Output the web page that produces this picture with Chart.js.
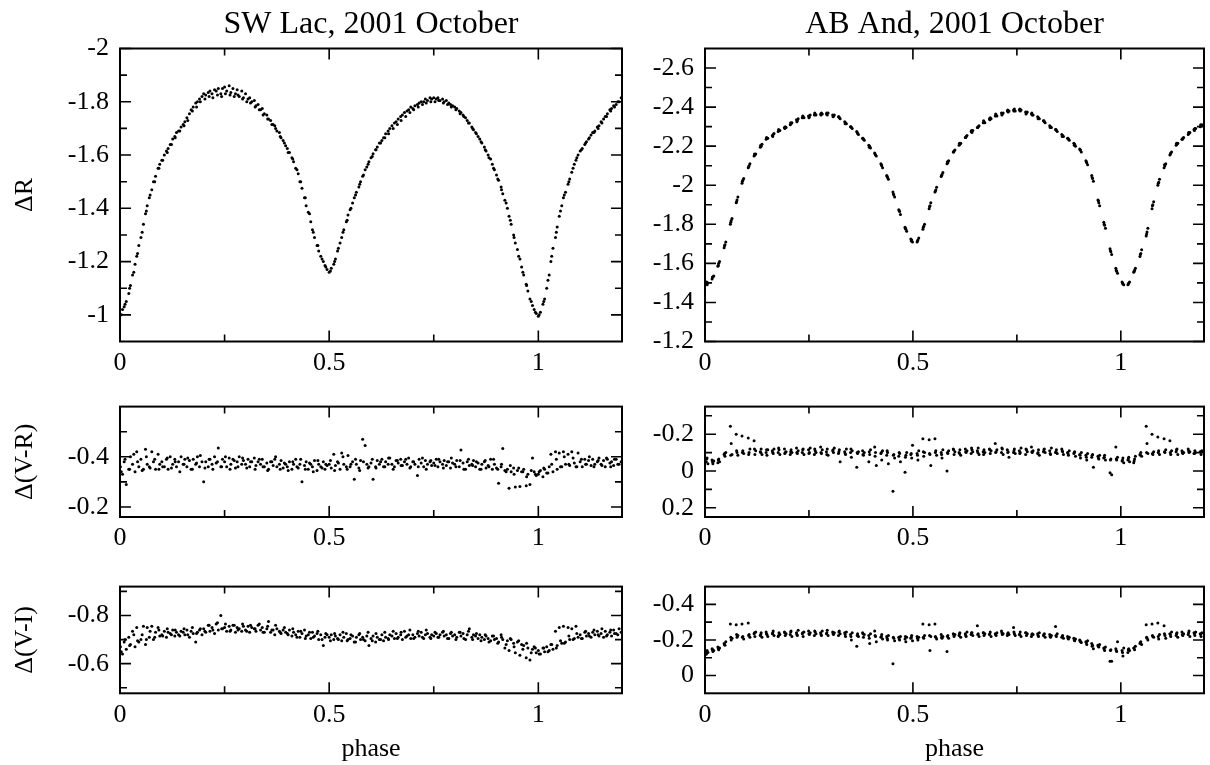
<!DOCTYPE html>
<html><head><meta charset="utf-8">
<script src="https://cdn.jsdelivr.net/npm/chart.js@4.4.0/dist/chart.umd.min.js"></script>
<style>
html,body{margin:0;padding:0;background:#fff;}
#wrap{position:relative;width:1210px;height:765px;overflow:hidden;background:#fff;}
canvas{position:absolute;}
</style></head><body><div id="wrap">
<canvas id="c1"></canvas><canvas id="c2"></canvas><canvas id="c3"></canvas>
<canvas id="c4"></canvas><canvas id="c5"></canvas><canvas id="c6"></canvas>
</div>
<script>
// ---------- tick labels ----------
const xMajor = [0, 0.5, 1];
const xMinor = [0.25, 0.75];
const swRMajor = [-2, -1.8, -1.6, -1.4, -1.2, -1];
const swRMinor = [-1.9, -1.7, -1.5, -1.3, -1.1];
const swVRMajor = [-0.4, -0.2];
const swVRMinor = [-0.5, -0.3];
const swVIMajor = [-0.8, -0.6];
const swVIMinor = [-0.9, -0.7, -0.5];
const abRMajor = [-2.6, -2.4, -2.2, -2, -1.8, -1.6, -1.4, -1.2];
const abRMinor = [-2.5, -2.3, -2.1, -1.9, -1.7, -1.5, -1.3];
const abVRMajor = [-0.2, 0, 0.2];
const abVRMinor = [-0.3, -0.1, 0.1];
const abVIMajor = [-0.4, -0.2, 0];
const abVIMinor = [-0.3, -0.1];

// ---------- SW Lac, night 1 ----------
const swPhase = [
0.001,0.006,0.010,0.015,0.021,0.025,0.030,0.036,0.040,0.045,
0.050,0.056,0.061,0.065,0.070,0.076,0.080,0.085,0.091,0.095,
0.100,0.106,0.111,0.115,0.120,0.126,0.131,0.135,0.140,0.146,
0.151,0.155,0.160,0.166,0.170,0.175,0.181,0.185,0.190,0.196,
0.200,0.205,0.211,0.215,0.220,0.226,0.230,0.235,0.241,0.245,
0.250,0.255,0.261,0.265,0.270,0.276,0.280,0.285,0.291,0.295,
0.300,0.306,0.310,0.315,0.321,0.325,0.330,0.336,0.340,0.345,
0.351,0.355,0.360,0.366,0.370,0.375,0.381,0.385,0.390,0.396,
0.400,0.405,0.411,0.415,0.420,0.426,0.430,0.435,0.441,0.445,
0.450,0.456,0.460,0.465,0.471,0.475,0.480,0.486,0.490,0.495,
0.500,0.505,0.511,0.515,0.520,0.526,0.530,0.535,0.541,0.545,
0.550,0.556,0.560,0.565,0.571,0.575,0.580,0.586,0.590,0.595,
0.600,0.605,0.611,0.615,0.620,0.626,0.630,0.635,0.641,0.645,
0.650,0.656,0.660,0.665,0.671,0.675,0.680,0.686,0.690,0.695,
0.700,0.705,0.711,0.715,0.720,0.726,0.730,0.735,0.741,0.745,
0.750,0.756,0.760,0.765,0.771,0.775,0.780,0.786,0.790,0.795,
0.800,0.805,0.811,0.815,0.820,0.826,0.830,0.835,0.841,0.845,
0.850,0.856,0.860,0.865,0.871,0.875,0.880,0.886,0.890,0.895,
0.900,0.905,0.911,0.915,0.920,0.926,0.930,0.935,0.941,0.945,
0.950,0.956,0.960,0.965,0.971,0.975,0.980,0.986,0.990,0.995,
1.000,1.005,1.011,1.015,1.020,1.026,1.030,1.035,1.041,1.045,
1.050,1.056,1.060,1.065,1.071,1.075,1.080,1.086,1.090,1.095,
1.100,1.105,1.111,1.115,1.120,1.126,1.130,1.135,1.141,1.145,
1.150,1.156,1.160,1.165,1.171,1.175,1.180,1.186,1.190,1.198];

const swR = [
-1.00,-1.02,-1.03,-1.05,-1.08,-1.11,-1.15,-1.19,-1.22,-1.26,
-1.29,-1.34,-1.38,-1.41,-1.44,-1.47,-1.50,-1.52,-1.55,-1.565,
-1.58,-1.60,-1.615,-1.625,-1.64,-1.66,-1.67,-1.685,-1.69,-1.705,
-1.715,-1.725,-1.74,-1.755,-1.77,-1.78,-1.795,-1.80,-1.81,-1.82,
-1.83,-1.825,-1.835,-1.84,-1.83,-1.845,-1.84,-1.85,-1.83,-1.85,
-1.855,-1.84,-1.86,-1.835,-1.85,-1.83,-1.845,-1.82,-1.84,-1.815,
-1.83,-1.81,-1.815,-1.80,-1.805,-1.785,-1.79,-1.77,-1.775,-1.755,
-1.75,-1.735,-1.73,-1.715,-1.71,-1.69,-1.685,-1.665,-1.655,-1.635,
-1.625,-1.61,-1.59,-1.575,-1.55,-1.53,-1.50,-1.475,-1.44,-1.41,
-1.385,-1.35,-1.32,-1.29,-1.26,-1.24,-1.22,-1.20,-1.185,-1.17,
-1.16,-1.175,-1.19,-1.21,-1.24,-1.27,-1.29,-1.32,-1.35,-1.375,
-1.395,-1.42,-1.44,-1.46,-1.48,-1.50,-1.52,-1.545,-1.555,-1.575,
-1.59,-1.605,-1.62,-1.63,-1.645,-1.655,-1.665,-1.68,-1.69,-1.70,
-1.71,-1.72,-1.725,-1.735,-1.745,-1.75,-1.76,-1.765,-1.77,-1.78,
-1.775,-1.785,-1.79,-1.795,-1.80,-1.80,-1.81,-1.805,-1.815,-1.81,
-1.815,-1.81,-1.815,-1.805,-1.81,-1.80,-1.805,-1.795,-1.79,-1.785,
-1.78,-1.775,-1.765,-1.76,-1.75,-1.74,-1.73,-1.72,-1.705,-1.695,
-1.685,-1.67,-1.66,-1.645,-1.63,-1.615,-1.60,-1.585,-1.565,-1.545,
-1.525,-1.505,-1.48,-1.455,-1.43,-1.40,-1.37,-1.34,-1.30,-1.27,
-1.245,-1.21,-1.18,-1.15,-1.115,-1.09,-1.06,-1.035,-1.02,-1.005,
-0.995,-1.01,-1.04,-1.06,-1.10,-1.15,-1.20,-1.25,-1.29,-1.33,
-1.37,-1.41,-1.44,-1.46,-1.49,-1.51,-1.535,-1.565,-1.58,-1.60,
-1.615,-1.625,-1.64,-1.65,-1.66,-1.675,-1.685,-1.69,-1.705,-1.71,
-1.725,-1.735,-1.745,-1.755,-1.77,-1.775,-1.785,-1.79,-1.80,-1.815];

const swVR = [
-0.36,-0.33,-0.38,-0.29,-0.35,-0.40,-0.37,-0.34,-0.42,-0.36,
-0.39,-0.35,-0.43,-0.37,-0.36,-0.42,-0.38,-0.35,-0.41,-0.37,
-0.38,-0.36,-0.39,-0.35,-0.40,-0.37,-0.39,-0.36,-0.38,-0.40,
-0.37,-0.39,-0.36,-0.385,-0.35,-0.39,-0.37,-0.40,-0.36,-0.38,
-0.30,-0.38,-0.36,-0.39,-0.37,-0.40,-0.375,-0.435,-0.36,-0.39,
-0.38,-0.36,-0.395,-0.37,-0.39,-0.355,-0.38,-0.40,-0.37,-0.385,
-0.37,-0.39,-0.36,-0.38,-0.395,-0.365,-0.38,-0.37,-0.39,-0.36,
-0.375,-0.35,-0.38,-0.365,-0.39,-0.36,-0.37,-0.385,-0.355,-0.37,
-0.36,-0.38,-0.35,-0.37,-0.39,-0.355,-0.37,-0.30,-0.365,-0.38,
-0.35,-0.37,-0.36,-0.385,-0.345,-0.37,-0.36,-0.38,-0.35,-0.365,
-0.37,-0.355,-0.41,-0.365,-0.38,-0.35,-0.415,-0.37,-0.36,-0.405,
-0.36,-0.38,-0.31,-0.37,-0.355,-0.385,-0.47,-0.445,-0.37,-0.36,
-0.375,-0.31,-0.36,-0.385,-0.37,-0.39,-0.36,-0.38,-0.37,-0.395,
-0.37,-0.36,-0.385,-0.375,-0.39,-0.365,-0.38,-0.37,-0.395,-0.36,
-0.38,-0.37,-0.325,-0.39,-0.375,-0.36,-0.385,-0.37,-0.38,-0.365,
-0.375,-0.39,-0.36,-0.38,-0.37,-0.385,-0.365,-0.38,-0.355,-0.375,
-0.37,-0.385,-0.36,-0.427,-0.375,-0.35,-0.38,-0.365,-0.37,-0.385,
-0.36,-0.375,-0.35,-0.37,-0.38,-0.355,-0.365,-0.39,-0.35,-0.37,
-0.355,-0.295,-0.36,-0.433,-0.345,-0.35,-0.275,-0.34,-0.355,-0.28,
-0.345,-0.282,-0.34,-0.35,-0.285,-0.33,-0.29,-0.395,-0.34,-0.325,
-0.33,-0.345,-0.32,-0.35,-0.335,-0.36,-0.41,-0.34,-0.42,-0.35,
-0.415,-0.36,-0.42,-0.37,-0.41,-0.365,-0.42,-0.375,-0.36,-0.415,
-0.38,-0.36,-0.39,-0.37,-0.385,-0.365,-0.39,-0.37,-0.38,-0.395,
-0.37,-0.385,-0.36,-0.39,-0.375,-0.38,-0.365,-0.39,-0.37,-0.38];

const swVI = [
-0.67,-0.64,-0.69,-0.66,-0.71,-0.68,-0.735,-0.67,-0.75,-0.69,
-0.70,-0.755,-0.68,-0.75,-0.71,-0.755,-0.70,-0.73,-0.75,-0.715,
-0.72,-0.735,-0.71,-0.73,-0.725,-0.74,-0.715,-0.73,-0.72,-0.735,
-0.73,-0.72,-0.74,-0.71,-0.735,-0.725,-0.69,-0.73,-0.74,-0.72,
-0.745,-0.73,-0.76,-0.735,-0.75,-0.725,-0.765,-0.74,-0.80,-0.745,
-0.75,-0.735,-0.755,-0.74,-0.76,-0.73,-0.75,-0.745,-0.735,-0.755,
-0.74,-0.755,-0.73,-0.75,-0.745,-0.735,-0.76,-0.74,-0.75,-0.73,
-0.745,-0.775,-0.73,-0.74,-0.72,-0.745,-0.735,-0.725,-0.74,-0.73,
-0.725,-0.74,-0.715,-0.73,-0.72,-0.735,-0.71,-0.725,-0.74,-0.715,
-0.72,-0.705,-0.73,-0.715,-0.725,-0.70,-0.72,-0.675,-0.71,-0.72,
-0.71,-0.72,-0.70,-0.715,-0.705,-0.72,-0.695,-0.71,-0.725,-0.70,
-0.705,-0.715,-0.69,-0.71,-0.72,-0.70,-0.71,-0.695,-0.715,-0.675,
-0.705,-0.715,-0.69,-0.71,-0.70,-0.72,-0.695,-0.71,-0.705,-0.72,
-0.715,-0.705,-0.725,-0.71,-0.72,-0.70,-0.735,-0.715,-0.72,-0.705,
-0.72,-0.71,-0.725,-0.715,-0.73,-0.705,-0.72,-0.725,-0.71,-0.72,
-0.715,-0.725,-0.71,-0.72,-0.73,-0.715,-0.72,-0.705,-0.725,-0.715,
-0.72,-0.71,-0.73,-0.715,-0.725,-0.70,-0.72,-0.745,-0.71,-0.72,
-0.715,-0.705,-0.72,-0.71,-0.70,-0.715,-0.705,-0.695,-0.715,-0.70,
-0.705,-0.69,-0.72,-0.70,-0.665,-0.695,-0.655,-0.70,-0.685,-0.645,
-0.69,-0.635,-0.68,-0.675,-0.625,-0.665,-0.615,-0.66,-0.67,-0.645,
-0.655,-0.64,-0.665,-0.65,-0.67,-0.655,-0.68,-0.66,-0.735,-0.675,
-0.75,-0.685,-0.755,-0.69,-0.75,-0.70,-0.745,-0.705,-0.755,-0.71,
-0.72,-0.705,-0.73,-0.715,-0.725,-0.71,-0.73,-0.72,-0.735,-0.715,
-0.725,-0.71,-0.735,-0.72,-0.73,-0.715,-0.74,-0.725,-0.72,-0.73];

// ---------- SW Lac, night 2 ----------
const swPhase2 = [
0.003,0.012,0.023,0.033,0.042,0.053,0.063,0.072,0.083,0.093,
0.102,0.113,0.123,0.132,0.143,0.153,0.162,0.173,0.183,0.192,
0.203,0.213,0.222,0.233,0.243,0.252,0.263,0.273,0.282,0.293,
0.303,0.312,0.323,0.333,0.342,0.353,0.363,0.372,0.383,0.393,
0.402,0.413,0.423,0.432,0.443,0.453,0.462,0.473,0.483,0.492,
0.503,0.513,0.522,0.533,0.543,0.552,0.563,0.573,0.582,0.593,
0.603,0.612,0.623,0.633,0.642,0.653,0.663,0.672,0.683,0.693,
0.702,0.713,0.723,0.732,0.743,0.753,0.762,0.773,0.783,0.792,
0.803,0.813,0.822,0.833,0.843,0.852,0.863,0.873,0.882,0.893,
0.903,0.912,0.923,0.933,0.942,0.953,0.963,0.972,0.983,0.993,
1.002,1.013,1.023,1.032,1.043,1.053,1.062,1.073,1.083,1.092,
1.103,1.113,1.122,1.133,1.143,1.152,1.163,1.173,1.182,1.193];

const swR2 = [
-1.00,-1.04,-1.10,-1.16,-1.23,-1.31,-1.39,-1.45,-1.50,-1.55,
-1.58,-1.61,-1.64,-1.665,-1.69,-1.71,-1.73,-1.765,-1.78,-1.80,
-1.81,-1.82,-1.815,-1.825,-1.82,-1.83,-1.825,-1.82,-1.825,-1.81,
-1.80,-1.795,-1.78,-1.77,-1.75,-1.735,-1.715,-1.70,-1.67,-1.645,
-1.61,-1.585,-1.545,-1.50,-1.44,-1.38,-1.31,-1.26,-1.21,-1.18,
-1.165,-1.20,-1.25,-1.31,-1.355,-1.40,-1.45,-1.49,-1.525,-1.565,
-1.595,-1.62,-1.645,-1.665,-1.68,-1.70,-1.715,-1.73,-1.745,-1.76,
-1.77,-1.78,-1.79,-1.795,-1.80,-1.80,-1.805,-1.795,-1.79,-1.78,
-1.77,-1.755,-1.745,-1.72,-1.70,-1.68,-1.65,-1.62,-1.59,-1.55,
-1.51,-1.47,-1.42,-1.355,-1.29,-1.22,-1.16,-1.11,-1.05,-1.01,
-1.00,-1.05,-1.13,-1.22,-1.31,-1.39,-1.45,-1.50,-1.55,-1.59,
-1.62,-1.645,-1.665,-1.685,-1.70,-1.72,-1.745,-1.765,-1.78,-1.80];

const swVR2 = [
-0.34,-0.39,-0.35,-0.41,-0.38,-0.345,-0.40,-0.355,-0.39,-0.35,
-0.36,-0.395,-0.355,-0.38,-0.34,-0.37,-0.395,-0.35,-0.375,-0.405,
-0.355,-0.39,-0.35,-0.38,-0.36,-0.40,-0.35,-0.385,-0.36,-0.395,
-0.355,-0.38,-0.35,-0.39,-0.36,-0.345,-0.38,-0.40,-0.35,-0.375,
-0.345,-0.38,-0.36,-0.39,-0.35,-0.375,-0.34,-0.385,-0.355,-0.37,
-0.385,-0.345,-0.375,-0.40,-0.35,-0.37,-0.39,-0.345,-0.38,-0.355,
-0.39,-0.355,-0.38,-0.36,-0.395,-0.35,-0.385,-0.365,-0.39,-0.355,
-0.38,-0.36,-0.395,-0.35,-0.385,-0.365,-0.39,-0.355,-0.38,-0.395,
-0.36,-0.385,-0.35,-0.39,-0.365,-0.38,-0.35,-0.385,-0.36,-0.39,
-0.35,-0.37,-0.34,-0.365,-0.33,-0.355,-0.34,-0.32,-0.345,-0.33,
-0.34,-0.355,-0.335,-0.37,-0.39,-0.36,-0.40,-0.37,-0.395,-0.36,
-0.39,-0.37,-0.40,-0.36,-0.385,-0.365,-0.395,-0.36,-0.39,-0.37];

const swVI2 = [
-0.65,-0.70,-0.675,-0.72,-0.695,-0.72,-0.70,-0.735,-0.71,-0.74,
-0.715,-0.745,-0.72,-0.74,-0.715,-0.745,-0.72,-0.75,-0.725,-0.745,
-0.735,-0.76,-0.74,-0.77,-0.745,-0.765,-0.735,-0.76,-0.74,-0.765,
-0.735,-0.76,-0.745,-0.765,-0.73,-0.755,-0.74,-0.76,-0.73,-0.75,
-0.72,-0.745,-0.71,-0.735,-0.705,-0.73,-0.71,-0.735,-0.70,-0.725,
-0.695,-0.725,-0.70,-0.73,-0.695,-0.72,-0.69,-0.725,-0.70,-0.73,
-0.695,-0.725,-0.70,-0.73,-0.70,-0.735,-0.705,-0.73,-0.71,-0.74,
-0.705,-0.735,-0.71,-0.74,-0.705,-0.73,-0.71,-0.735,-0.705,-0.73,
-0.70,-0.73,-0.705,-0.735,-0.70,-0.725,-0.695,-0.72,-0.69,-0.715,
-0.685,-0.71,-0.68,-0.705,-0.67,-0.695,-0.66,-0.685,-0.645,-0.665,
-0.64,-0.665,-0.65,-0.68,-0.665,-0.695,-0.685,-0.715,-0.70,-0.725,
-0.705,-0.735,-0.715,-0.74,-0.72,-0.745,-0.715,-0.74,-0.725,-0.745];

// ---------- AB And, night 1 ----------
const abPhase = [
0.003,0.005,0.007,0.017,0.019,0.021,0.031,0.033,0.035,0.046,0.048,0.050,0.061,0.063,0.065,0.075,0.077,0.079,0.089,0.091,0.093,0.104,0.106,0.108,0.118,0.120,0.122,0.133,0.135,0.137,
0.147,0.149,0.151,0.162,0.164,0.166,0.176,0.178,0.180,0.191,0.193,0.195,0.205,0.207,0.209,0.220,0.222,0.224,0.234,0.236,0.238,0.249,0.251,0.253,0.263,0.265,0.267,0.278,0.280,0.282,
0.292,0.294,0.296,0.307,0.309,0.311,0.321,0.323,0.325,0.336,0.338,0.340,0.350,0.352,0.354,0.365,0.367,0.369,0.379,0.381,0.383,0.394,0.396,0.398,0.408,0.410,0.412,0.423,0.425,0.427,
0.437,0.439,0.441,0.452,0.454,0.456,0.466,0.468,0.470,0.481,0.483,0.485,0.495,0.497,0.499,0.510,0.512,0.514,0.524,0.526,0.528,0.539,0.541,0.543,0.553,0.555,0.557,0.568,0.570,0.572,
0.582,0.584,0.586,0.597,0.599,0.601,0.611,0.613,0.615,0.626,0.628,0.630,0.640,0.642,0.644,0.655,0.657,0.659,0.669,0.671,0.673,0.684,0.686,0.688,0.698,0.700,0.702,0.713,0.715,0.717,
0.727,0.729,0.731,0.742,0.744,0.746,0.756,0.758,0.760,0.771,0.773,0.775,0.785,0.787,0.789,0.800,0.802,0.804,0.814,0.816,0.818,0.829,0.831,0.833,0.843,0.845,0.847,0.858,0.860,0.862,
0.872,0.874,0.876,0.887,0.889,0.891,0.901,0.903,0.905,0.916,0.918,0.920,0.930,0.932,0.934,0.945,0.947,0.949,0.959,0.961,0.963,0.974,0.976,0.978,0.988,0.990,0.992,1.003,1.005,1.007,
1.017,1.019,1.021,1.031,1.033,1.035,1.046,1.048,1.050,1.061,1.063,1.065,1.075,1.077,1.079,1.089,1.091,1.093,1.104,1.106,1.108,1.118,1.120,1.122,1.133,1.135,1.137,1.147,1.149,1.151,
1.162,1.164,1.166,1.176,1.178,1.180,1.191,1.193,1.195];

const abR = [
-1.495,-1.49,-1.50,-1.52,-1.53,-1.535,-1.585,-1.60,-1.61,-1.68,-1.695,-1.71,-1.80,-1.82,-1.83,-1.91,-1.925,-1.94,-2.01,-2.025,-2.035,-2.09,-2.10,-2.11,-2.15,-2.155,-2.16,-2.195,-2.20,-2.21,
-2.235,-2.24,-2.24,-2.255,-2.26,-2.265,-2.275,-2.28,-2.28,-2.295,-2.30,-2.295,-2.31,-2.315,-2.32,-2.335,-2.33,-2.34,-2.345,-2.35,-2.345,-2.355,-2.35,-2.36,-2.36,-2.365,-2.36,-2.365,-2.37,-2.365,
-2.365,-2.36,-2.37,-2.36,-2.355,-2.36,-2.35,-2.345,-2.34,-2.325,-2.32,-2.315,-2.30,-2.295,-2.29,-2.275,-2.265,-2.26,-2.24,-2.235,-2.23,-2.205,-2.20,-2.19,-2.165,-2.155,-2.15,-2.11,-2.10,-2.09,
-2.05,-2.04,-2.03,-1.965,-1.95,-1.94,-1.875,-1.865,-1.85,-1.785,-1.775,-1.765,-1.725,-1.72,-1.71,-1.71,-1.72,-1.73,-1.775,-1.79,-1.80,-1.88,-1.895,-1.91,-1.965,-1.975,-1.99,-2.045,-2.055,-2.065,
-2.11,-2.115,-2.125,-2.17,-2.175,-2.18,-2.205,-2.21,-2.215,-2.245,-2.25,-2.255,-2.275,-2.27,-2.28,-2.295,-2.30,-2.305,-2.32,-2.325,-2.32,-2.34,-2.345,-2.34,-2.355,-2.36,-2.355,-2.37,-2.365,-2.37,
-2.38,-2.375,-2.38,-2.385,-2.39,-2.38,-2.385,-2.38,-2.385,-2.375,-2.37,-2.375,-2.365,-2.36,-2.36,-2.35,-2.345,-2.34,-2.33,-2.325,-2.32,-2.305,-2.30,-2.295,-2.285,-2.28,-2.275,-2.26,-2.255,-2.25,
-2.24,-2.235,-2.23,-2.215,-2.21,-2.20,-2.185,-2.18,-2.17,-2.125,-2.115,-2.105,-2.05,-2.035,-2.02,-1.925,-1.91,-1.895,-1.81,-1.795,-1.78,-1.675,-1.66,-1.645,-1.575,-1.56,-1.55,-1.505,-1.495,-1.49,
-1.49,-1.50,-1.505,-1.555,-1.565,-1.575,-1.635,-1.65,-1.67,-1.74,-1.76,-1.78,-1.88,-1.90,-1.915,-2.00,-2.015,-2.03,-2.09,-2.10,-2.11,-2.155,-2.165,-2.17,-2.205,-2.21,-2.215,-2.235,-2.24,-2.245,
-2.26,-2.265,-2.27,-2.285,-2.29,-2.29,-2.30,-2.305,-2.31];

const abVR = [
-0.05,-0.07,-0.04,-0.06,-0.04,-0.055,-0.045,-0.065,-0.05,-0.09,-0.08,-0.10,-0.243,-0.15,-0.09,-0.20,-0.10,-0.085,-0.19,-0.11,-0.095,-0.18,-0.10,-0.12,-0.165,-0.09,-0.11,-0.105,-0.12,-0.09,
-0.10,-0.085,-0.115,-0.11,-0.095,-0.12,-0.10,-0.115,-0.09,-0.12,-0.10,-0.105,-0.09,-0.115,-0.10,-0.125,-0.095,-0.11,-0.10,-0.12,-0.09,-0.115,-0.10,-0.125,-0.09,-0.11,-0.10,-0.13,-0.095,-0.115,
-0.105,-0.12,-0.085,-0.11,-0.10,-0.125,-0.095,-0.115,-0.05,-0.105,-0.09,-0.12,-0.10,-0.075,-0.11,-0.02,-0.095,-0.105,-0.11,-0.085,-0.10,-0.05,-0.09,-0.115,-0.13,-0.10,-0.03,-0.095,-0.06,-0.11,
-0.085,-0.10,-0.04,0.11,-0.09,-0.07,-0.08,-0.095,-0.05,0.007,-0.085,-0.10,-0.09,-0.07,-0.14,-0.095,-0.06,-0.11,-0.175,-0.08,-0.10,-0.17,-0.09,-0.03,-0.175,-0.11,-0.085,-0.10,-0.07,-0.115,
0.00,-0.095,-0.11,-0.12,-0.09,-0.105,-0.10,-0.115,-0.085,-0.12,-0.10,-0.11,-0.095,-0.115,-0.105,-0.11,-0.125,-0.09,-0.105,-0.115,-0.10,-0.12,-0.095,-0.11,-0.15,-0.105,-0.115,-0.10,-0.12,-0.09,
-0.115,-0.105,-0.075,-0.10,-0.12,-0.095,-0.11,-0.10,-0.125,-0.09,-0.115,-0.105,-0.13,-0.10,-0.11,-0.095,-0.115,-0.085,-0.105,-0.12,-0.10,-0.11,-0.09,-0.125,-0.10,-0.115,-0.095,-0.12,-0.105,-0.09,
-0.10,-0.085,-0.11,-0.095,-0.105,-0.08,-0.09,-0.07,-0.10,-0.085,-0.06,-0.095,-0.075,-0.09,-0.02,-0.08,-0.065,-0.085,-0.07,-0.085,-0.06,0.01,-0.065,0.02,-0.13,-0.06,-0.075,-0.055,-0.07,-0.045,
-0.06,-0.075,-0.05,-0.045,-0.065,-0.08,-0.09,-0.10,-0.08,-0.243,-0.15,-0.095,-0.20,-0.09,-0.105,-0.185,-0.11,-0.09,-0.175,-0.10,-0.115,-0.165,-0.09,-0.11,-0.105,-0.12,-0.09,-0.11,-0.095,-0.10,
-0.12,-0.10,-0.105,-0.095,-0.11,-0.10,-0.105,-0.09,-0.11];

const abVI = [
-0.12,-0.14,-0.13,-0.15,-0.135,-0.14,-0.16,-0.145,-0.155,-0.18,-0.17,-0.19,-0.29,-0.20,-0.21,-0.285,-0.215,-0.225,-0.29,-0.22,-0.205,-0.295,-0.23,-0.215,-0.235,-0.22,-0.245,-0.225,-0.24,-0.215,
-0.245,-0.23,-0.22,-0.235,-0.25,-0.225,-0.22,-0.24,-0.23,-0.245,-0.225,-0.235,-0.23,-0.25,-0.22,-0.24,-0.225,-0.255,-0.235,-0.22,-0.245,-0.25,-0.23,-0.24,-0.225,-0.245,-0.235,-0.24,-0.225,-0.25,
-0.235,-0.255,-0.225,-0.245,-0.23,-0.24,-0.225,-0.25,-0.235,-0.24,-0.22,-0.245,-0.23,-0.20,-0.24,-0.165,-0.235,-0.22,-0.24,-0.215,-0.23,-0.225,-0.18,-0.235,-0.25,-0.22,-0.19,-0.215,-0.23,-0.205,
-0.22,-0.20,-0.225,-0.066,-0.21,-0.195,-0.215,-0.20,-0.22,-0.205,-0.19,-0.215,-0.21,-0.225,-0.195,-0.22,-0.20,-0.215,-0.29,-0.21,-0.225,-0.285,-0.14,-0.22,-0.29,-0.215,-0.205,-0.23,-0.21,-0.22,
-0.135,-0.225,-0.21,-0.235,-0.22,-0.23,-0.225,-0.24,-0.215,-0.235,-0.22,-0.245,-0.23,-0.24,-0.225,-0.28,-0.235,-0.22,-0.24,-0.225,-0.235,-0.23,-0.245,-0.22,-0.235,-0.225,-0.24,-0.25,-0.23,-0.235,
-0.225,-0.24,-0.23,-0.27,-0.235,-0.225,-0.23,-0.245,-0.22,-0.24,-0.225,-0.235,-0.22,-0.235,-0.23,-0.235,-0.22,-0.24,-0.225,-0.235,-0.215,-0.23,-0.215,-0.225,-0.275,-0.22,-0.235,-0.215,-0.225,-0.21,
-0.22,-0.205,-0.215,-0.21,-0.195,-0.205,-0.20,-0.19,-0.185,-0.19,-0.175,-0.195,-0.18,-0.17,-0.15,-0.17,-0.16,-0.175,-0.155,-0.14,-0.16,-0.08,-0.145,-0.08,-0.15,-0.135,-0.19,-0.14,-0.11,-0.155,
-0.13,-0.15,-0.14,-0.155,-0.145,-0.165,-0.18,-0.19,-0.175,-0.285,-0.21,-0.20,-0.29,-0.22,-0.215,-0.295,-0.205,-0.23,-0.28,-0.225,-0.21,-0.235,-0.22,-0.245,-0.225,-0.24,-0.215,-0.245,-0.225,-0.235,
-0.23,-0.25,-0.22,-0.24,-0.225,-0.245,-0.235,-0.22,-0.24];

// ---------- AB And, night 2 ----------
const abPhase2 = [
0.004,0.018,0.032,0.047,0.062,0.076,0.090,0.105,0.119,0.134,
0.148,0.163,0.177,0.192,0.206,0.221,0.235,0.250,0.264,0.279,
0.293,0.308,0.322,0.337,0.351,0.366,0.380,0.395,0.409,0.424,
0.438,0.453,0.467,0.482,0.496,0.511,0.525,0.540,0.554,0.569,
0.583,0.598,0.612,0.627,0.641,0.656,0.670,0.685,0.699,0.714,
0.728,0.743,0.757,0.772,0.786,0.801,0.815,0.830,0.844,0.859,
0.873,0.888,0.902,0.917,0.931,0.946,0.960,0.975,0.989,1.004,
1.018,1.032,1.047,1.062,1.076,1.090,1.105,1.119,1.134,1.148,
1.163,1.177,1.192];

const abR2 = [
-1.505,-1.53,-1.59,-1.69,-1.81,-1.915,-2.02,-2.095,-2.16,-2.205,
-2.245,-2.25,-2.285,-2.29,-2.32,-2.325,-2.355,-2.345,-2.37,-2.36,
-2.37,-2.35,-2.35,-2.315,-2.30,-2.27,-2.24,-2.195,-2.16,-2.105,
-2.045,-1.955,-1.87,-1.78,-1.715,-1.715,-1.785,-1.89,-1.97,-2.05,
-2.12,-2.17,-2.215,-2.245,-2.28,-2.295,-2.33,-2.335,-2.365,-2.36,
-2.385,-2.38,-2.39,-2.365,-2.37,-2.34,-2.33,-2.295,-2.285,-2.25,
-2.24,-2.205,-2.18,-2.12,-2.04,-1.92,-1.80,-1.665,-1.565,-1.50,
-1.495,-1.56,-1.645,-1.75,-1.895,-2.01,-2.105,-2.16,-2.215,-2.235,
-2.27,-2.28,-2.31];

const abVR2 = [
-0.065,-0.05,-0.06,-0.095,-0.085,-0.11,-0.10,-0.09,-0.12,-0.10,
-0.115,-0.10,-0.125,-0.095,-0.105,-0.10,-0.115,-0.095,-0.12,-0.10,
-0.09,-0.115,-0.105,-0.095,-0.12,-0.10,-0.09,-0.105,-0.08,-0.10,
-0.11,-0.085,-0.10,-0.075,-0.095,-0.085,-0.105,-0.095,-0.10,-0.09,
-0.10,-0.115,-0.095,-0.105,-0.125,-0.10,-0.09,-0.115,-0.10,-0.125,
-0.10,-0.11,-0.095,-0.12,-0.105,-0.10,-0.115,-0.095,-0.105,-0.11,
-0.095,-0.10,-0.085,-0.075,-0.085,-0.07,-0.075,-0.06,-0.065,-0.06,
-0.065,-0.055,-0.085,-0.10,-0.095,-0.10,-0.105,-0.10,-0.115,-0.10,
-0.11,-0.095,-0.105];

const abVI2 = [
-0.135,-0.145,-0.15,-0.175,-0.215,-0.23,-0.215,-0.225,-0.24,-0.23,
-0.235,-0.24,-0.225,-0.24,-0.245,-0.23,-0.24,-0.235,-0.25,-0.23,
-0.24,-0.235,-0.245,-0.23,-0.22,-0.225,-0.235,-0.21,-0.225,-0.22,
-0.21,-0.215,-0.205,-0.22,-0.215,-0.21,-0.215,-0.225,-0.22,-0.215,
-0.22,-0.23,-0.235,-0.225,-0.24,-0.23,-0.24,-0.235,-0.23,-0.24,
-0.235,-0.245,-0.23,-0.24,-0.23,-0.225,-0.23,-0.22,-0.225,-0.22,
-0.21,-0.20,-0.195,-0.185,-0.165,-0.165,-0.15,-0.14,-0.14,-0.13,
-0.145,-0.155,-0.185,-0.215,-0.225,-0.22,-0.235,-0.23,-0.235,-0.23,
-0.24,-0.235,-0.23];

// ---------- drawing ----------
Chart.defaults.font.family = "'Liberation Serif','Times New Roman',serif";
Chart.defaults.color = '#000';

const frameTicks = {
  id: 'frameTicks',
  afterDatasetsDraw(chart, args, o) {
    const {ctx, chartArea: a, scales: {x, y}} = chart;
    ctx.save();
    ctx.strokeStyle = '#000';
    ctx.lineWidth = 1.6;
    ctx.beginPath();
    const tx = (vals, len) => vals.forEach(v => {
      const p = x.getPixelForValue(v);
      ctx.moveTo(p, a.bottom); ctx.lineTo(p, a.bottom - len);
      ctx.moveTo(p, a.top); ctx.lineTo(p, a.top + len);
    });
    const ty = (vals, len) => vals.forEach(v => {
      const p = y.getPixelForValue(v);
      ctx.moveTo(a.left, p); ctx.lineTo(a.left + len, p);
      ctx.moveTo(a.right, p); ctx.lineTo(a.right - len, p);
    });
    tx(o.xMaj, 11); tx(o.xMin, 7);
    ty(o.yMaj, 11); ty(o.yMin, 7);
    ctx.stroke();
    ctx.lineWidth = 2;
    ctx.strokeRect(a.left, a.top, a.right - a.left, a.bottom - a.top);
    ctx.restore();
  }
};

function pts(ph, vals) {
  const n = Math.min(ph.length, vals.length);
  const out = [];
  for (let i = 0; i < n; i++) out.push({x: ph[i], y: vals[i]});
  return out;
}

function panel(id, p) {
  const cv = document.getElementById(id);
  cv.width = p.w; cv.height = p.h;
  cv.style.left = p.left + 'px'; cv.style.top = p.top + 'px';
  cv.style.width = p.w + 'px'; cv.style.height = p.h + 'px';
  new Chart(cv, {
    type: 'scatter',
    data: {datasets: p.sets.map(s => ({data: pts(s[0], s[1]), pointRadius: 1.5, pointHoverRadius: 0,
      pointBackgroundColor: '#000', pointBorderWidth: 0, showLine: false}))},
    options: {
      responsive: false, animation: false, devicePixelRatio: 1, events: [],
      layout: {padding: {left: 0, right: p.padR, top: p.padT, bottom: 0}},
      plugins: {
        legend: {display: false}, tooltip: {enabled: false},
        title: {display: !!p.title, text: p.title || '', color: '#000', fullSize: false,
          font: {size: 32, weight: 'normal'}, padding: {top: 5.8, bottom: 4.3}},
        frameTicks: {xMaj: xMajor, xMin: xMinor, yMaj: p.yMaj, yMin: p.yMin}
      },
      scales: {
        x: {type: 'linear', min: 0, max: 1.2,
          grid: {display: false, drawTicks: false}, border: {display: false},
          afterBuildTicks: s => { s.ticks = xMajor.map(v => ({value: v})); },
          afterFit: s => { s.height = p.xH; },
          ticks: {font: {size: 26}, padding: 6, maxRotation: 0, autoSkip: false,
            callback: v => String(v)},
          title: {display: !!p.xTitle, text: p.xTitle || '', font: {size: 26},
            padding: {top: 0, bottom: 0}}},
        y: {type: 'linear', reverse: true, min: p.yLo, max: p.yHi,
          grid: {display: false, drawTicks: false}, border: {display: false},
          afterBuildTicks: s => { s.ticks = p.yMaj.map(v => ({value: v})); },
          afterFit: s => { s.width = p.yW; },
          ticks: {font: {size: 26}, padding: 11, autoSkip: false, callback: v => String(v)},
          title: {display: !!p.yTitle, text: p.yTitle || '', font: {size: 26},
            padding: {top: 10, bottom: 0}}}
      }
    },
    plugins: [frameTicks]
  });
}

// left column (SW Lac)
panel('c1', {left: 0, top: 0, w: 640, h: 380, padR: 18, padT: 0, xH: 38.5, yW: 120,
  sets: [[swPhase, swR], [swPhase2, swR2]], yLo: -2, yHi: -0.9, yMaj: swRMajor, yMin: swRMinor,
  title: 'SW Lac, 2001 October', yTitle: '\u0394R'});
panel('c2', {left: 0, top: 380, w: 640, h: 180, padR: 18, padT: 20.7, xH: 43, yW: 120,
  sets: [[swPhase, swVR], [swPhase2, swVR2]], yLo: -0.6, yHi: -0.16, yMaj: swVRMajor, yMin: swVRMinor,
  yTitle: '\u0394(V-R)'});
panel('c3', {left: 0, top: 560, w: 640, h: 205, padR: 18, padT: 16, xH: 71.7, yW: 120,
  sets: [[swPhase, swVI], [swPhase2, swVI2]], yLo: -0.92, yHi: -0.477, yMaj: swVIMajor, yMin: swVIMinor,
  yTitle: '\u0394(V-I)', xTitle: 'phase'});
// right column (AB And)
panel('c4', {left: 640, top: 0, w: 570, h: 380, padR: 6, padT: 0, xH: 38.5, yW: 65,
  sets: [[abPhase, abR], [abPhase2, abR2]], yLo: -2.7, yHi: -1.2, yMaj: abRMajor, yMin: abRMinor,
  title: 'AB And, 2001 October'});
panel('c5', {left: 640, top: 380, w: 570, h: 180, padR: 6, padT: 20.7, xH: 43, yW: 65,
  sets: [[abPhase, abVR], [abPhase2, abVR2]], yLo: -0.35, yHi: 0.25, yMaj: abVRMajor, yMin: abVRMinor});
panel('c6', {left: 640, top: 560, w: 570, h: 205, padR: 6, padT: 16, xH: 71.7, yW: 65,
  sets: [[abPhase, abVI], [abPhase2, abVI2]], yLo: -0.5, yHi: 0.1, yMaj: abVIMajor, yMin: abVIMinor,
  xTitle: 'phase'});
</script>
</body></html>
